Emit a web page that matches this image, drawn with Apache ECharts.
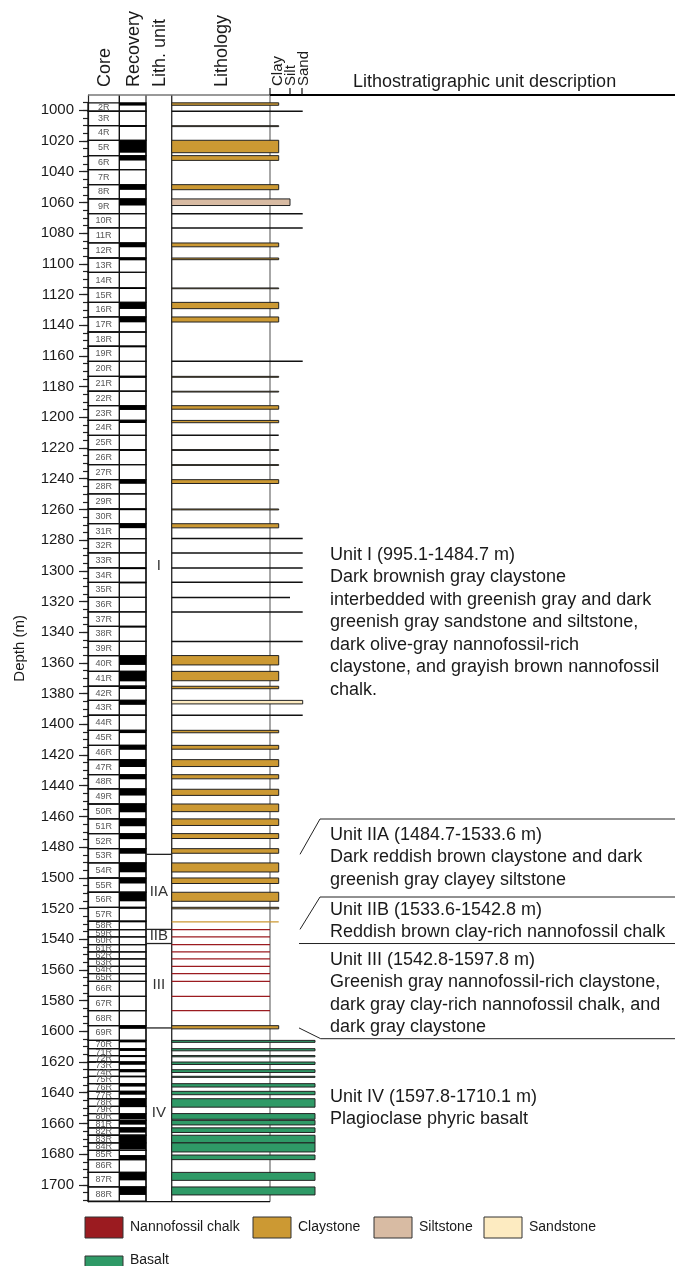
<!DOCTYPE html>
<html>
<head>
<meta charset="utf-8">
<script src="https://cdn.jsdelivr.net/npm/echarts@6.0.0/dist/echarts.min.js"></script>
<style>
html,body{margin:0;padding:0;background:#fff;}
#chart{width:675px;height:1266px;}
</style>
</head>
<body>
<div id="chart"></div>
<script>
// ---------------- DATA ----------------
const depthMin = 990, depthMax = 1711;
const depthTicks = [1000,1020,1040,1060,1080,1100,1120,1140,1160,1180,1200,1220,1240,1260,1280,1300,1320,1340,1360,1380,1400,1420,1440,1460,1480,1500,1520,1540,1560,1580,1600,1620,1640,1660,1680,1700];

const coreNames = ['2R','3R','4R','5R','6R','7R','8R','9R','10R','11R','12R','13R','14R','15R','16R','17R','18R','19R','20R','21R','22R','23R','24R','25R','26R','27R','28R','29R','30R','31R','32R','33R','34R','35R','36R','37R','38R','39R','40R','41R','42R','43R','44R','45R','46R','47R','48R','49R','50R','51R','52R','53R','54R','55R','56R','57R','58R','59R','60R','61R','62R','63R','64R','65R','66R','67R','68R','69R','70R','71R','72R','73R','74R','75R','76R','77R','78R','79R','80R','81R','82R','83R','84R','85R','86R','87R','88R'];
const coreTops = [995.1,1000.6,1010.0,1019.5,1029.5,1038.6,1048.4,1057.7,1067.3,1076.6,1086.4,1096.2,1105.5,1115.7,1125.1,1134.6,1144.4,1153.7,1163.5,1173.3,1183.0,1192.4,1202.0,1211.7,1221.0,1230.8,1240.6,1249.9,1259.7,1269.3,1279.0,1288.3,1298.1,1307.5,1317.3,1326.8,1336.2,1346.0,1355.2,1365.5,1375.2,1384.4,1394.1,1403.9,1413.7,1423.0,1432.8,1442.1,1451.9,1461.6,1471.2,1481.0,1490.3,1500.1,1509.4,1519.2,1528.3,1533.8,1538.5,1543.5,1548.3,1552.8,1557.7,1562.4,1567.4,1577.2,1586.5,1596.3,1605.9,1611.3,1615.8,1620.0,1625.0,1629.3,1634.1,1639.1,1643.9,1648.9,1653.6,1658.0,1662.9,1667.7,1672.7,1677.5,1683.6,1691.9,1701.4];
const coreBase = 1710.7;

const recTops  = [995.1,1010.0,1019.5,1029.5,1048.4,1057.7,1086.4,1096.2,1115.7,1125.1,1134.6,1153.7,1173.3,1192.4,1202.0,1221.0,1240.6,1259.7,1269.3,1298.1,1307.5,1336.2,1355.2,1365.5,1375.2,1384.4,1403.9,1413.7,1423.0,1432.8,1442.1,1451.9,1461.6,1471.2,1481.0,1490.3,1500.1,1509.4,1519.2,1528.3,1596.3,1605.9,1611.3,1615.8,1620.0,1625.0,1629.3,1634.1,1639.1,1643.9,1653.6,1658.0,1662.9,1667.7,1672.7,1680.6,1691.9,1701.4];
const recBases = [996.9,1010.8,1027.6,1032.7,1051.8,1062.0,1089.2,1097.7,1116.4,1129.4,1138.1,1154.4,1174.3,1195.2,1203.7,1221.9,1243.3,1260.5,1272.2,1298.9,1308.2,1337.0,1361.3,1372.0,1377.0,1387.3,1405.7,1416.6,1427.8,1435.8,1446.4,1457.3,1466.4,1474.8,1484.3,1496.4,1503.7,1515.3,1520.2,1529.0,1598.4,1607.2,1612.8,1616.8,1621.8,1626.7,1630.0,1636.0,1641.3,1649.4,1657.3,1660.8,1666.0,1672.7,1677.0,1683.6,1697.1,1706.6];

const clayTops  = [995.1,1010.0,1019.5,1029.5,1048.4,1086.4,1096.2,1115.7,1125.1,1134.6,1173.3,1183.0,1192.4,1202.0,1221.0,1230.8,1240.6,1259.7,1269.3,1355.2,1365.5,1375.2,1403.9,1413.7,1423.0,1432.8,1442.3,1451.9,1461.6,1471.2,1481.0,1490.3,1500.1,1509.4,1519.2,1596.3];
const clayBases = [996.7,1010.6,1027.6,1032.6,1051.7,1088.9,1097.3,1116.2,1129.2,1137.9,1173.9,1183.5,1194.7,1203.5,1221.6,1231.3,1243.1,1260.3,1272.0,1361.3,1371.6,1376.8,1405.5,1416.2,1427.5,1435.5,1446.3,1456.9,1465.9,1474.4,1484.0,1496.2,1503.7,1515.3,1520.2,1598.4];
const clayLines = [1528.7];
const siltTops = [1057.7], siltBases = [1062.0];
const sandTops = [1384.4], sandBases = [1386.7];
const chalkLines = [1533.8,1538.5,1543.5,1548.3,1552.8,1557.7,1562.4,1567.4,1577.2,1586.5];
const basaltTops  = [1605.9,1611.3,1615.8,1620.0,1625.0,1629.3,1634.1,1639.1,1643.9,1653.6,1658.0,1662.9,1667.7,1672.7,1680.6,1691.9,1701.4];
const basaltBases = [1607.2,1612.7,1616.6,1621.6,1626.8,1630.0,1636.3,1641.3,1649.4,1657.3,1661.0,1665.9,1672.7,1678.6,1683.6,1697.1,1706.6];
const markDepths = [1000.6,1067.3,1076.6,1163.5,1211.7,1279.0,1288.3,1298.1,1307.5,1317.3,1326.8,1346.0,1394.1];
const markGrain  = ['sand','sand','sand','sand','clay','sand','sand','sand','sand','silt','sand','sand','sand'];

const unitNames = ['I','IIA','IIB','III','IV'];
const unitTops  = [995.1,1484.7,1533.6,1542.8,1597.8];
const unitBases = [1484.7,1533.6,1542.8,1597.8,1710.1];
const unitLabelDepths = [1297,1509,1538,1570,1653];

const unitI   = ['Unit I (995.1-1484.7 m)','Dark brownish gray claystone','interbedded with greenish gray and dark','greenish gray sandstone and siltstone,','dark olive-gray nannofossil-rich','claystone, and grayish brown nannofossil','chalk.'];
const unitIIA = ['Unit IIA (1484.7-1533.6 m)','Dark reddish brown claystone and dark','greenish gray clayey siltstone'];
const unitIIB = ['Unit IIB (1533.6-1542.8 m)','Reddish brown clay-rich nannofossil chalk'];
const unitIII = ['Unit III (1542.8-1597.8 m)','Greenish gray nannofossil-rich claystone,','dark gray clay-rich nannofossil chalk, and','dark gray claystone'];
const unitIV  = ['Unit IV (1597.8-1710.1 m)','Plagioclase phyric basalt'];

const legendNames = ['Nannofossil chalk','Claystone','Siltstone','Sandstone','Basalt'];
const legendKeys  = ['chalk','clay','silt','sand','basalt'];

// ---------------- STYLE / LAYOUT ----------------
const FONT = '"Liberation Sans", Arial, Helvetica, sans-serif';
const COLORS = {chalk:'#9B1B20', clay:'#CC9933', silt:'#D8BBA3', sand:'#FDEBC1', basalt:'#2F9A67'};
// x positions in axis units (pixels from grid left = 88)
const X = {coreL:0, coreR:31.3, recR:58, unitR:83.7, clayTick:182, siltTick:202, sandTick:214, connA:212, connB:232, right:587};
const EDGE = {chalk:182, clay:190.7, silt:202, sand:214.7, basalt:227};

const minorTicks = [];
for (let d = 995; d <= 1710; d += 5) minorTicks.push(d);

// build lithology items
const litData = [], litMeta = [];
function addBars(tops, bases, kind){ tops.forEach((t,i)=>{ litData.push([t, bases[i]]); litMeta.push({kind, grain:kind, style:'bar'}); }); }
addBars(clayTops, clayBases, 'clay');
addBars(siltTops, siltBases, 'silt');
addBars(sandTops, sandBases, 'sand');
addBars(basaltTops, basaltBases, 'basalt');
clayLines.forEach(d=>{ litData.push([d,d]); litMeta.push({kind:'clay', grain:'clay', style:'line'}); });
chalkLines.forEach(d=>{ litData.push([d,d]); litMeta.push({kind:'chalk', grain:'chalk', style:'line'}); });
markDepths.forEach((d,i)=>{ litData.push([d,d]); litMeta.push({kind:'mark', grain:markGrain[i], style:'mark'}); });

const coreData = coreTops.map((t,i)=>[t, i < coreTops.length-1 ? coreTops[i+1] : coreBase]);
const recData = recTops.map((t,i)=>[t, recBases[i]]);
const unitData = unitTops.map((t,i)=>[t, unitBases[i]]);

function line(x1,y1,x2,y2,stroke,w){ return {type:'line', shape:{x1,y1,x2,y2}, style:{stroke, lineWidth:w}}; }
function txt(x,y,text,size,extra){
  const o = {type:'text', x, y, style:{text, font:size+'px '+FONT, fill:'#1a1a1a', align:'left', textAlign:'left', verticalAlign:'middle', textVerticalAlign:'middle'}};
  if (extra) { if (extra.rotation!==undefined) o.rotation = extra.rotation; if (extra.fill) o.style.fill = extra.fill; if (extra.align){o.style.align=extra.align;o.style.textAlign=extra.align;} }
  return o;
}

// ---------------- GRAPHIC TEXTS ----------------
const graphics = [];
const R = Math.PI/2;
graphics.push(txt(105, 87, 'Core', 18, {rotation:R}));
graphics.push(txt(134, 87, 'Recovery', 18, {rotation:R}));
graphics.push(txt(160, 87, 'Lith. unit', 18, {rotation:R}));
graphics.push(txt(222, 87, 'Lithology', 18, {rotation:R}));
graphics.push(txt(278, 86, 'Clay', 15, {rotation:R}));
graphics.push(txt(291, 86, 'Silt', 15, {rotation:R}));
graphics.push(txt(303.5, 86, 'Sand', 15, {rotation:R}));
graphics.push(txt(353, 82, 'Lithostratigraphic unit description', 18));

function block(lines, y0, gap){ lines.forEach((s,k)=>graphics.push(txt(330, y0 + k*gap, s, 18))); }
block(unitI, 555, 22.5);
block(unitIIA, 835, 22.5);
block(unitIIB, 910, 22.5);
block(unitIII, 960, 22.3);
block(unitIV, 1097, 22.5);

// legend
const legX = [85, 253, 374, 484, 85];
const legY = [1217, 1217, 1217, 1217, 1256];
const legTY = [1227.5, 1227.5, 1227.5, 1227.5, 1260];
legendNames.forEach((n,i)=>{
  graphics.push({type:'rect', shape:{x:legX[i], y:legY[i], width:38, height:21}, style:{fill:COLORS[legendKeys[i]], stroke:'#333', lineWidth:1}});
  graphics.push(txt(legX[i]+45, legTY[i], n, 14));
});

// ---------------- CHART ----------------
const chart = echarts.init(document.getElementById('chart'));
const option = {
  animation: false,
  backgroundColor: '#fff',
  grid: {left: 88, top: 95, width: 587, height: 1106.7, containLabel: false},
  xAxis: {type:'value', min:0, max:587, show:false},
  yAxis: [{
    type:'value', inverse:true, min:depthMin, max:depthMax, position:'left',
    name:'Depth (m)', nameLocation:'middle', nameGap:61, nameRotate:90,
    nameTextStyle:{fontSize:15, color:'#1a1a1a', fontFamily:FONT},
    axisLine:{show:true, lineStyle:{color:'#222', width:1.2}},
    axisTick:{show:true, length:9, customValues:depthTicks, lineStyle:{color:'#222', width:1.2}},
    axisLabel:{show:true, customValues:depthTicks, fontSize:15, color:'#1a1a1a', fontFamily:FONT, margin:14, formatter: v => String(Math.round(v))},
    splitLine:{show:false}
  },{
    type:'value', inverse:true, min:depthMin, max:depthMax, position:'left', offset:0,
    axisLine:{show:false},
    axisTick:{show:true, length:5, customValues:minorTicks, lineStyle:{color:'#222', width:1.2}},
    axisLabel:{show:false},
    splitLine:{show:false}
  }],
  graphic: graphics,
  series: [
    { // frame
      type:'custom', z:1, silent:true, data:[[depthMin, depthMax]],
      renderItem(params, api){
        const top = api.coord([0, depthMin])[1], bot = api.coord([0, depthMax])[1];
        const px = v => api.coord([v, depthMin])[0];
        const ch = [];
        ch.push(line(px(X.coreR), top, px(X.coreR), bot, '#111', 1.4));
        ch.push(line(px(X.recR), top, px(X.recR), bot, '#444', 1.4));
        ch.push(line(px(X.unitR), top, px(X.unitR), bot, '#333', 1.4));
        ch.push(line(px(X.clayTick), top, px(X.clayTick), bot, '#8a8a8a', 1.5));
        ch.push(line(px(0), top, px(X.clayTick), top, '#777', 1.5));
        ch.push(line(px(0), bot, px(X.clayTick), bot, '#111', 1.3));
        ch.push(line(px(X.clayTick), top, px(X.right), top, '#000', 2));
        [X.clayTick, X.siltTick, X.sandTick].forEach(v=>ch.push(line(px(v), top-7, px(v), top, '#111', 1.2)));
        // connectors
        const yd = d => api.coord([0, d])[1];
        ch.push({type:'polyline', shape:{points:[[px(X.connA), yd(unitBases[0])],[px(X.connB), 819],[px(X.right), 819]]}, style:{stroke:'#222', lineWidth:1, fill:null}});
        ch.push({type:'polyline', shape:{points:[[px(X.connA), yd(unitBases[1])],[px(X.connB), 897],[px(X.right), 897]]}, style:{stroke:'#222', lineWidth:1, fill:null}});
        ch.push(line(px(X.connA-1), yd(unitBases[2]), px(X.right), yd(unitBases[2]), '#222', 1));
        ch.push({type:'polyline', shape:{points:[[px(X.connA-1), yd(unitBases[3])],[px(X.connB+0.7), 1038.7],[px(X.right), 1038.7]]}, style:{stroke:'#222', lineWidth:1, fill:null}});
        return {type:'group', children:ch};
      }
    },
    { // cores
      type:'custom', z:2, silent:true, data:coreData,
      renderItem(params, api){
        const t = api.value(0), b = api.value(1);
        const a = api.coord([X.coreL, t]), c = api.coord([X.recR, b]);
        const mid = api.coord([X.coreR/2, (t+b)/2]);
        return {type:'group', children:[
          {type:'rect', shape:{x:a[0], y:a[1], width:c[0]-a[0], height:c[1]-a[1]}, style:{fill:'none', stroke:'#111', lineWidth:1.3}},
          {type:'text', style:{text:coreNames[params.dataIndex], x:mid[0], y:mid[1], font:'9px '+FONT, fill:'#555', align:'center', textAlign:'center', verticalAlign:'middle', textVerticalAlign:'middle'}}
        ]};
      }
    },
    { // recovery
      type:'custom', z:3, silent:true, data:recData,
      renderItem(params, api){
        const a = api.coord([X.coreR, api.value(0)]), c = api.coord([X.recR, api.value(1)]);
        return {type:'rect', shape:{x:a[0], y:a[1], width:c[0]-a[0], height:c[1]-a[1]}, style:{fill:'#000'}};
      }
    },
    { // lith units
      type:'custom', z:2, silent:true, data:unitData,
      renderItem(params, api){
        const i = params.dataIndex;
        const ch = [];
        if (i < unitNames.length-1) {
          const a = api.coord([X.recR, api.value(1)]), c = api.coord([X.unitR, api.value(1)]);
          ch.push(line(a[0], a[1], c[0], c[1], '#222', 1.3));
        }
        const m = api.coord([(X.recR+X.unitR)/2, unitLabelDepths[i]]);
        ch.push({type:'text', style:{text:unitNames[i], x:m[0], y:m[1], font:'15px '+FONT, fill:'#333', align:'center', textAlign:'center', verticalAlign:'middle', textVerticalAlign:'middle'}});
        return {type:'group', children:ch};
      }
    },
    { // lithology
      type:'custom', z:4, silent:true, data:litData,
      renderItem(params, api){
        const m = litMeta[params.dataIndex];
        const t = api.value(0), b = api.value(1);
        const a = api.coord([X.unitR, t]), c = api.coord([EDGE[m.grain], b]);
        if (m.style === 'mark') return line(a[0], a[1], c[0], a[1], '#111', 1.5);
        if (m.style === 'line') return line(a[0], a[1], c[0], a[1], COLORS[m.kind], 1.2);
        return {type:'rect', shape:{x:a[0], y:a[1], width:c[0]-a[0], height:Math.max(c[1]-a[1], 0.8)}, style:{fill:COLORS[m.kind], stroke:'#222', lineWidth:1}};
      }
    }
  ]
};
chart.setOption(option);
</script>
</body>
</html>
